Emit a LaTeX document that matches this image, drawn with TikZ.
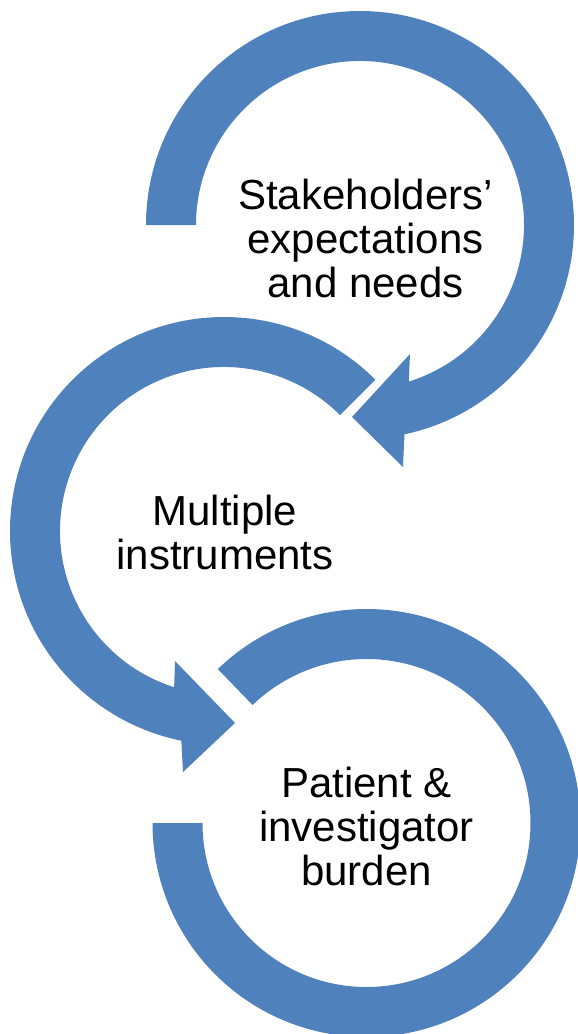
\documentclass[tikz,border=0pt]{standalone}
\usepackage{fontspec}
\setmainfont{Liberation Sans}
\usetikzlibrary{calc}
\definecolor{arrowblue}{HTML}{4F81BD}
\begin{document}
\begin{tikzpicture}[x=1pt,y=1pt,
  band/.style={fill=arrowblue,draw=none},
  label/.style={align=center,inner sep=0pt,text=black,
    font=\fontsize{42}{44}\selectfont}]
\useasboundingbox (0,0) rectangle (578,-1034);
% circle centres
\coordinate (T) at (360,-225);
\coordinate (M) at (224,-531);
\coordinate (B) at (366.5,-823);

% top arrow: from the left, clockwise over the top, head pointing left
\fill[band] ($(T)+(180:214)$) arc[start angle=180,end angle=-78,radius=214]
  -- (403,-467) -- (352,-417) -- (410,-354)
  -- ($(T)+(-72.7:164)$) arc[start angle=-72.7,end angle=180,radius=164] -- cycle;

% middle arrow: from upper right, anticlockwise, head pointing right
\fill[band] ($(M)+(45:214)$) arc[start angle=45,end angle=258.5,radius=214]
  -- (183,-772) -- (235,-723) -- (175,-661)
  -- ($(M)+(252.3:164)$) arc[start angle=252.3,end angle=45,radius=164] -- cycle;

% bottom ring: from upper left, clockwise round to the left side
\fill[band] ($(B)+(134:214)$) arc[start angle=134,end angle=-180,radius=214]
  -- ($(B)+(180:164)$) arc[start angle=-180,end angle=134,radius=164] -- cycle;

\node[label] (stake) at (365.5,-238) {Stakeholders’\\expectations\\and needs};
\node[label] (instr) at (225,-532) {Multiple\\instruments};
\node[label] (burden) at (366.5,-826) {Patient \&\\investigator\\burden};
\end{tikzpicture}
\end{document}
